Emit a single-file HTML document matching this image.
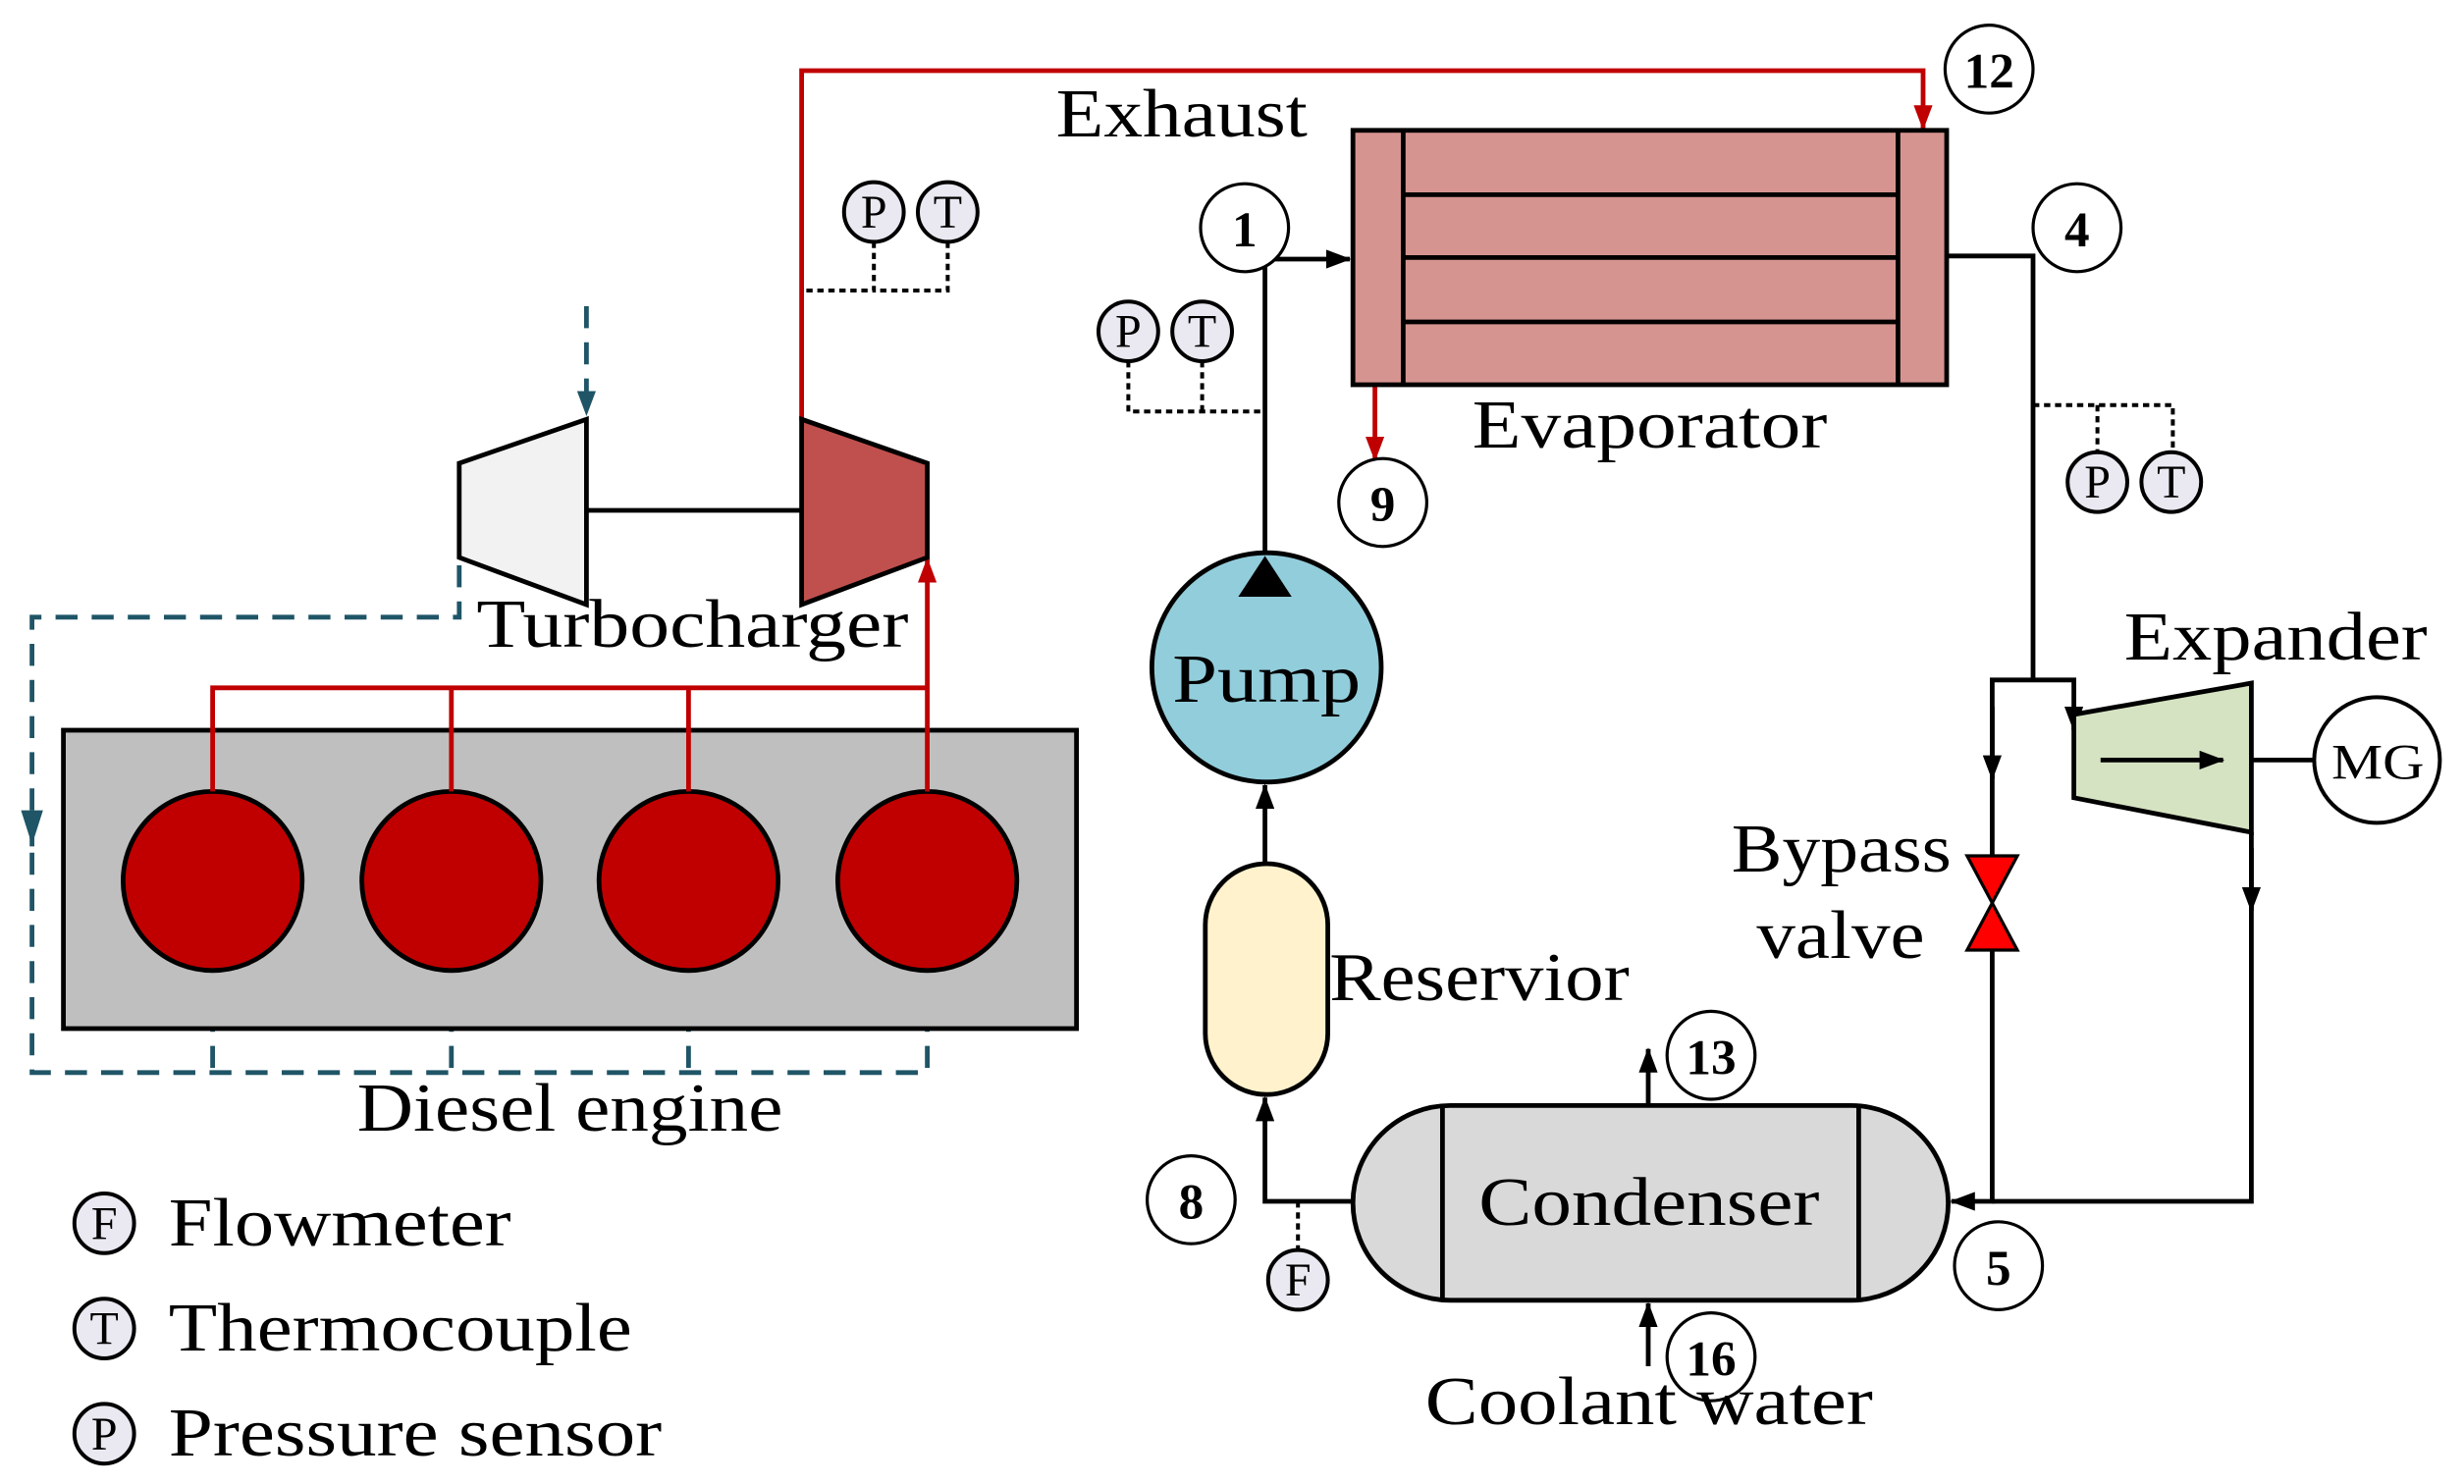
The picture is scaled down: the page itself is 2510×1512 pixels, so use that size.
<!DOCTYPE html>
<html><head><style>body{margin:0;background:#fff}svg{display:block}text{font-family:"Liberation Serif",serif;fill:#000}</style></head>
<body>
<svg width="2510" height="1512" viewBox="0 0 1568 945" xmlns="http://www.w3.org/2000/svg">
<defs>
<marker id="ab" markerWidth="16" markerHeight="12" refX="15" refY="6" orient="auto" markerUnits="userSpaceOnUse"><path d="M0,0 L16,6 L0,12 z" fill="#000"/></marker>
<marker id="ar" markerWidth="16" markerHeight="12" refX="15" refY="6" orient="auto" markerUnits="userSpaceOnUse"><path d="M0,0 L16,6 L0,12 z" fill="#c00000"/></marker>
<marker id="at" markerWidth="16" markerHeight="12" refX="15" refY="6" orient="auto" markerUnits="userSpaceOnUse"><path d="M0,0 L16,6 L0,12 z" fill="#1f5566"/></marker>
</defs>
<g fill="none" stroke-width="3">
<g stroke="#1f5566" stroke-dasharray="14,9">
<line x1="373" y1="195" x2="373" y2="264" marker-end="url(#at)"/>
<polyline points="292,360 292,393 20,393 20,545"/>
<polyline points="20,520 20,683 590,683 590,620"/>
<line x1="135" y1="620" x2="135" y2="683"/><line x1="287" y1="620" x2="287" y2="683"/><line x1="438" y1="620" x2="438" y2="683"/>
</g>
<path d="M13,516 L27,516 L20,538 z" fill="#1f5566" stroke="none"/>
<rect x="40" y="465" width="645" height="190" fill="#bfbfbf" stroke="#000"/>
<g fill="#c00000" stroke="#000"><circle cx="135" cy="561" r="57"/><circle cx="287" cy="561" r="57"/><circle cx="438" cy="561" r="57"/><circle cx="590" cy="561" r="57"/></g>
<g stroke="#c00000">
<polyline points="135,504 135,438 590,438"/><line x1="287" y1="504" x2="287" y2="438"/><line x1="438" y1="504" x2="438" y2="438"/>
<line x1="590" y1="504" x2="590" y2="356" marker-end="url(#ar)"/>
<polyline points="510,268 510,45 1224,45 1224,82" marker-end="url(#ar)"/>
<line x1="875" y1="245" x2="875" y2="293" marker-end="url(#ar)"/>
</g>
<polygon points="292,295 373,267 373,385 292,355" fill="#f2f2f2" stroke="#000"/>
<line x1="373" y1="325" x2="510" y2="325" stroke="#000"/>
<polygon points="510,267 590,295 590,355 510,385" fill="#c0504d" stroke="#000"/>
<rect x="861" y="83" width="378" height="162" fill="#d69490" stroke="#000"/>
<g stroke="#000"><line x1="893" y1="83" x2="893" y2="245"/><line x1="1208" y1="83" x2="1208" y2="245"/>
<line x1="893" y1="124" x2="1208" y2="124"/><line x1="893" y1="164" x2="1208" y2="164"/><line x1="893" y1="205" x2="1208" y2="205"/>
<polyline points="805,355 805,165 859,165" marker-end="url(#ab)"/>
<polyline points="1239,163 1294,163 1294,433"/>
<polyline points="1268,545 1268,433 1320,433 1320,465" marker-end="url(#ab)"/>
<line x1="1268" y1="450" x2="1268" y2="496" marker-end="url(#ab)"/>
<polyline points="1268,605 1268,765 1242,765" marker-end="url(#ab)"/>
<polyline points="1433,530 1433,765 1268,765"/>
<line x1="1433" y1="540" x2="1433" y2="580" marker-end="url(#ab)"/>
<line x1="1433" y1="484" x2="1473" y2="484"/>
<line x1="805" y1="550" x2="805" y2="500" marker-end="url(#ab)"/>
<polyline points="861,765 805,765 805,699" marker-end="url(#ab)"/>
<line x1="1049" y1="704" x2="1049" y2="668" marker-end="url(#ab)"/>
<line x1="1049" y1="870" x2="1049" y2="830" marker-end="url(#ab)"/>
</g>
<polygon points="1320,455 1433,435 1433,530 1320,508" fill="#d6e3c2" stroke="#000"/>
<line x1="1337" y1="484" x2="1415" y2="484" stroke="#000" marker-end="url(#ab)"/>
<circle cx="1513" cy="484" r="40" fill="#fff" stroke="#000" stroke-width="2.5"/>
<polygon points="1252,545 1284,545 1268,575" fill="#f00" stroke="#000" stroke-width="2"/>
<polygon points="1252,605 1284,605 1268,575" fill="#f00" stroke="#000" stroke-width="2"/>
<circle cx="806" cy="425" r="73" fill="#92cddb" stroke="#000"/>
<path d="M788,380 L822,380 L805,354 z" fill="#000" stroke="none"/>
<rect x="767" y="550" width="78" height="147" rx="39" fill="#fff2cc" stroke="#000"/>
<rect x="861" y="704" width="379" height="124" rx="62" fill="#d9d9d9" stroke="#000"/>
<line x1="918" y1="704" x2="918" y2="828" stroke="#000"/><line x1="1183" y1="704" x2="1183" y2="828" stroke="#000"/>
<g stroke="#000" stroke-dasharray="4,3" stroke-width="2.5">
<polyline points="556,154 556,185 512,185"/><polyline points="603,154 603,185 556,185"/>
<polyline points="718,230 718,262 805,262"/><line x1="765" y1="230" x2="765" y2="262"/>
<polyline points="1294,258 1383,258 1383,288"/><line x1="1335" y1="258" x2="1335" y2="288"/>
<line x1="826" y1="765" x2="826" y2="796"/>
</g>
<g fill="#eae8f0" stroke="#000" stroke-width="2.5">
<circle cx="556" cy="135" r="19"/><circle cx="603" cy="135" r="19"/>
<circle cx="718" cy="211" r="19"/><circle cx="765" cy="211" r="19"/>
<circle cx="1335" cy="307" r="19"/><circle cx="1382" cy="307" r="19"/>
<circle cx="826" cy="815" r="19"/>
<circle cx="66" cy="779" r="19"/><circle cx="66" cy="846" r="19"/><circle cx="66" cy="913" r="19"/>
</g>
<g fill="#fff" stroke="#000" stroke-width="2">
<circle cx="1266" cy="44" r="28"/><circle cx="792" cy="145" r="28"/><circle cx="1322" cy="145" r="28"/>
<circle cx="880" cy="320" r="28"/><circle cx="758" cy="764" r="28"/><circle cx="1089" cy="672" r="28"/>
<circle cx="1089" cy="864" r="28"/><circle cx="1272" cy="806" r="28"/>
</g>
</g>
<g font-size="30" text-anchor="middle">
<text x="556" y="145">P</text><text x="603" y="145">T</text>
<text x="718" y="221">P</text><text x="765" y="221">T</text>
<text x="1335" y="317">P</text><text x="1382" y="317">T</text>
<text x="826" y="825">F</text>
<text x="66" y="789">F</text><text x="66" y="856">T</text><text x="66" y="923">P</text>
</g>
<g font-size="32" font-weight="bold" text-anchor="middle">
<text x="1266" y="56">12</text><text x="792" y="157">1</text><text x="1322" y="157">4</text>
<text x="880" y="332">9</text><text x="758" y="776">8</text><text x="1089" y="684">13</text>
<text x="1089" y="876">16</text><text x="1272" y="818">5</text>
</g>
<text x="1484" y="496" font-size="32" textLength="59" lengthAdjust="spacingAndGlyphs">MG</text>
<g font-size="44" lengthAdjust="spacingAndGlyphs">
<text x="672" y="87" textLength="160" lengthAdjust="spacingAndGlyphs">Exhaust</text>
<text x="937" y="285" textLength="226" lengthAdjust="spacingAndGlyphs">Evaporator</text>
<text x="303" y="412" textLength="275" lengthAdjust="spacingAndGlyphs">Turbocharger</text>
<text x="746" y="447" textLength="120" lengthAdjust="spacingAndGlyphs">Pump</text>
<text x="846" y="637" textLength="191" lengthAdjust="spacingAndGlyphs">Reservior</text>
<text x="1352" y="420" textLength="193" lengthAdjust="spacingAndGlyphs">Expander</text>
<text x="1102" y="555" textLength="140" lengthAdjust="spacingAndGlyphs">Bypass</text>
<text x="1118" y="610" textLength="107" lengthAdjust="spacingAndGlyphs">valve</text>
<text x="941" y="780" textLength="217" lengthAdjust="spacingAndGlyphs">Condenser</text>
<text x="907" y="907" textLength="285" lengthAdjust="spacingAndGlyphs">Coolant water</text>
<text x="227" y="720" textLength="271" lengthAdjust="spacingAndGlyphs">Diesel engine</text>
<text x="107" y="793" textLength="218" lengthAdjust="spacingAndGlyphs">Flowmeter</text>
<text x="107" y="860" textLength="295" lengthAdjust="spacingAndGlyphs">Thermocouple</text>
<text x="107" y="927" textLength="314" lengthAdjust="spacingAndGlyphs">Pressure sensor</text>
</g>
</svg>
</body></html>
